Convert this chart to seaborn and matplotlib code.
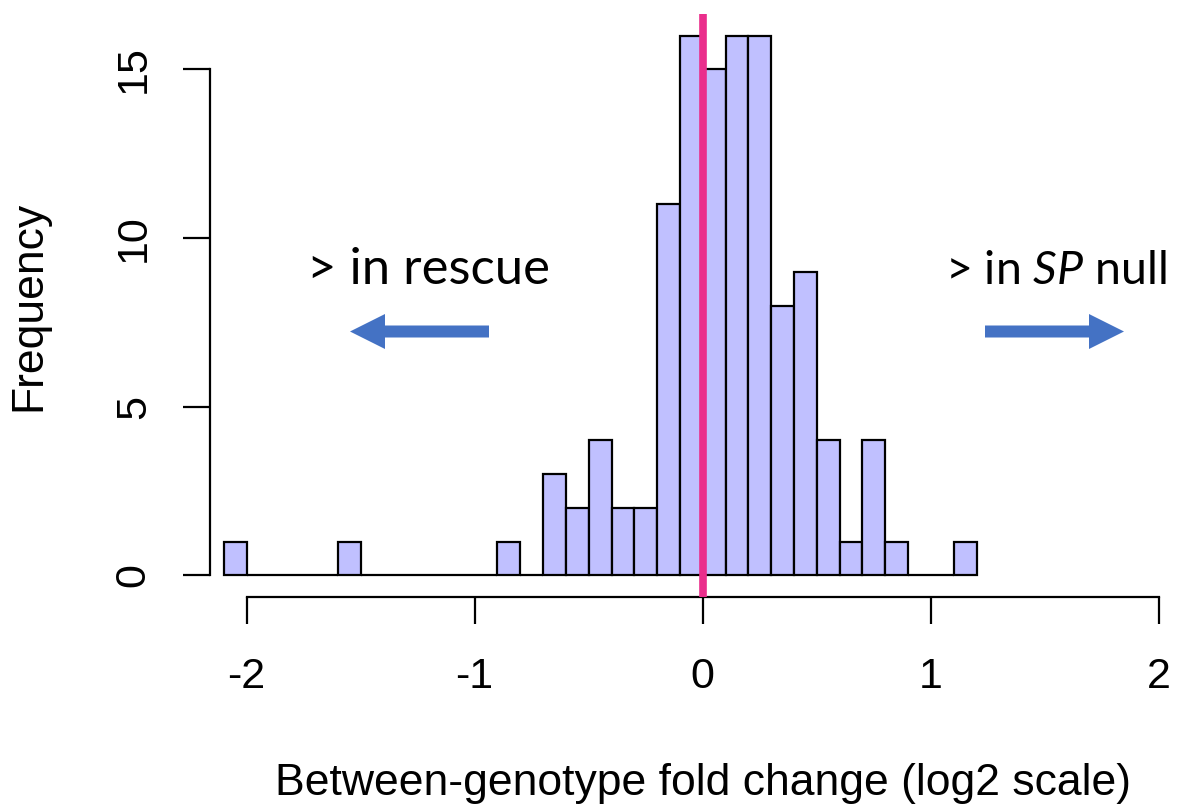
import numpy as np
import pandas as pd
import matplotlib
matplotlib.use("Agg")
import matplotlib.pyplot as plt
from matplotlib.patches import FancyArrow
import seaborn as sns

# ---- data ----
bin_edges = [round(-2.1 + 0.1 * i, 2) for i in range(34)]
bin_counts = [1, 0, 0, 0, 0, 1, 0, 0, 0, 0, 0, 0, 1, 0,
              3, 2, 4, 2, 2, 11, 16, 15, 16, 16, 8, 9, 4, 1, 4, 1, 0, 0, 1]
x_ticks = [-2, -1, 0, 1, 2]
y_ticks = [0, 5, 10, 15]
x_label = "Between-genotype fold change (log2 scale)"
y_label = "Frequency"
left_note = "> in rescue"
right_note = r"> in $\mathit{SP}$ null"

df = pd.DataFrame({
    "center": [(bin_edges[i] + bin_edges[i + 1]) / 2 for i in range(len(bin_counts))],
    "count": bin_counts,
})

sns.set_theme(style="white")
plt.rcParams["font.family"] = ["Liberation Sans", "DejaVu Sans"]
plt.rcParams["mathtext.fontset"] = "custom"
plt.rcParams["mathtext.rm"] = "Lato"
plt.rcParams["mathtext.it"] = "Lato:italic"
plt.rcParams["text.color"] = "black"
plt.rcParams["axes.labelcolor"] = "black"
plt.rcParams["xtick.color"] = "black"
plt.rcParams["ytick.color"] = "black"

W, H = 1199, 809
fig = plt.figure(figsize=(W / 100, H / 100), dpi=100)
ax = fig.add_axes([210 / W, 212 / H, (1195.5 - 210) / W, (795 - 212) / H])

sns.histplot(data=df, x="center", weights="count", bins=bin_edges, ax=ax,
             color="#C0C0FF", edgecolor="black", linewidth=1.6, alpha=1.0)

ax.axvline(0, color="#EA2E8C", linewidth=5.5, zorder=5)

ax.set_xlim(-2.16, 2.16)
ax.set_ylim(-0.64, 16.64)
ax.set_xticks(x_ticks)
ax.set_xticklabels([str(v) for v in x_ticks])
ax.set_yticks(y_ticks)
ax.set_yticklabels([str(v) for v in y_ticks], rotation=90, va="center")

for s in ["top", "right"]:
    ax.spines[s].set_visible(False)
for s in ["left", "bottom"]:
    ax.spines[s].set_linewidth(1.6)
    ax.spines[s].set_color("black")
ax.spines["left"].set_bounds(0, 15)
ax.spines["bottom"].set_bounds(-2, 2)

ax.tick_params(axis="x", direction="out", length=19.5, width=1.6,
               color="black", labelcolor="black", labelsize=31, pad=24, bottom=True)
ax.tick_params(axis="y", direction="out", length=19.5, width=1.6,
               color="black", labelcolor="black", labelsize=31, pad=21, left=True)

ax.set_xlabel(x_label, fontsize=32, color="black")
ax.set_ylabel(y_label, fontsize=32, color="black")
ax.xaxis.set_label_coords(0.5, -0.285)
ax.yaxis.set_label_coords(-0.163, 0.5)
ax.grid(False)

# annotations (in figure inches, measured from the bottom-left)
fig.text(307 / 100, (H - 284) / 100, left_note, transform=fig.dpi_scale_trans,
         fontsize=36.5, family="Lato", ha="left", va="baseline", color="black")
fig.text(945 / 100, (H - 284) / 100, right_note, transform=fig.dpi_scale_trans,
         fontsize=33.5, family="Lato", ha="left", va="baseline", color="black")

arrow_kw = dict(width=0.12, head_width=0.35, head_length=0.35,
                length_includes_head=True, color="#4472C4", linewidth=0,
                transform=fig.dpi_scale_trans)
fig.add_artist(FancyArrow(4.89, (H - 331.5) / 100, -1.39, 0, **arrow_kw))
fig.add_artist(FancyArrow(9.85, (H - 331.5) / 100, 1.39, 0, **arrow_kw))

fig.savefig("out.png", dpi=100)
